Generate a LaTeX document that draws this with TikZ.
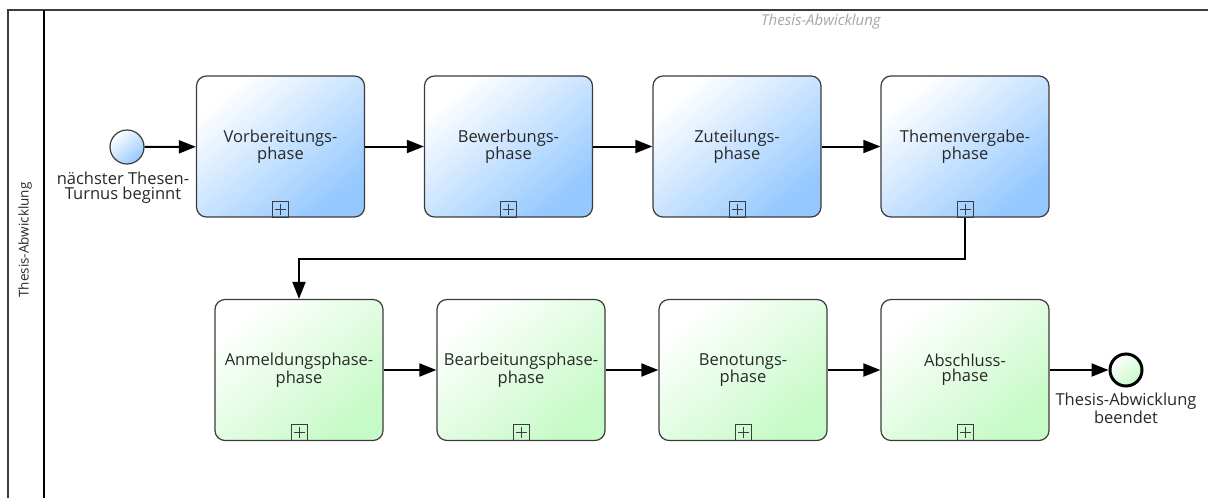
\documentclass[tikz,border=0pt]{standalone}
\usepackage{fontspec}
\setmainfont{Open Sans}
\usetikzlibrary{arrows.meta,positioning}
\definecolor{bpblue}{RGB}{148,200,255}
\definecolor{bpgreen}{RGB}{198,250,198}
\definecolor{edge}{RGB}{60,60,60}
\definecolor{txt}{RGB}{40,40,40}
\tikzset{
  task/.style={rectangle, rounded corners=10pt, draw=edge, line width=1.2pt,
    minimum width=168pt, minimum height=141pt, align=center, text=txt,
    font=\fontsize{16.5}{15}\selectfont, inner sep=0pt},
  bluetask/.style={task, top color=white, bottom color=bpblue, shading angle=40},
  greentask/.style={task, top color=white, bottom color=bpgreen, shading angle=40},
  marker/.style={rectangle, draw=edge, line width=1pt, minimum width=16pt, minimum height=16pt,
    inner sep=0pt, anchor=south,
    path picture={\draw[line width=1pt] ([yshift=-2.5pt]path picture bounding box.north) -- ([yshift=2.5pt]path picture bounding box.south);
                  \draw[line width=1pt] ([xshift=2.5pt]path picture bounding box.west) -- ([xshift=-2.5pt]path picture bounding box.east);}},
  flow/.style={line width=2pt, -{Triangle[length=17pt,width=13pt]}},
  evlabel/.style={align=center, text=txt, font=\fontsize{16.5}{15}\selectfont, inner sep=0pt},
}
\begin{document}
\begin{tikzpicture}[x=1pt,y=-1pt]
\useasboundingbox (0,0) rectangle (1208,498);
% pool
\draw[edge, line width=1.5pt] (1210,10) -- (8,10) -- (8,500);
\draw[black, line width=2pt] (44,10) -- (44,500);
\node[rotate=90, text=txt, font=\fontsize{13.5}{13.5}\selectfont] (lanelbl) at (25,240) {Thesis-Abwicklung};
\node[font=\fontsize{15}{15}\selectfont\itshape, text=black!35] (title) at (821,22) {Thesis-Abwicklung};
% start event
\node[circle, draw=edge, line width=1.2pt, minimum size=34pt, inner sep=0pt,
      top color=white, bottom color=bpblue, shading angle=40] (start) at (127,147) {};
\node[evlabel, anchor=north] (startlbl) at (123,172) {nächster Thesen-\\Turnus beginnt};
% top row
\node[bluetask] (v) at (280.5,146.5) {Vorbereitungs-\\phase};
\node[bluetask] (b) at (508.5,146.5) {Bewerbungs-\\phase};
\node[bluetask] (z) at (737,146.5) {Zuteilungs-\\phase};
\node[bluetask] (t) at (965,146.5) {Themenvergabe-\\phase};
% bottom row
\node[greentask] (a) at (299,370) {Anmeldungsphase-\\phase};
\node[greentask] (be) at (521,370) {Bearbeitungsphase-\\phase};
\node[greentask] (n) at (743,370) {Benotungs-\\phase};
\node[greentask] (ab) at (965,370) {Abschluss-\\phase};
% markers
\foreach \x in {v,b,z,t,a,be,n,ab} { \node[marker] (m\x) at (\x.south) {}; }
% end event
\node[circle, draw=black, line width=3pt, minimum size=32pt, inner sep=0pt,
      top color=white, bottom color=bpgreen, shading angle=40] (end) at (1126,370) {};
\node[evlabel, anchor=north] (endlbl) at (1126,393) {Thesis-Abwicklung\\beendet};
% flows
\draw[flow] (start) -- (v);
\draw[flow] (v) -- (b);
\draw[flow] (b) -- (z);
\draw[flow] (z) -- (t);
\draw[flow] (mt.south) -- ++(0,41) -| (a.north);
\draw[flow] (a) -- (be);
\draw[flow] (be) -- (n);
\draw[flow] (n) -- (ab);
\draw[flow] (ab) -- (end);
\end{tikzpicture}
\end{document}
